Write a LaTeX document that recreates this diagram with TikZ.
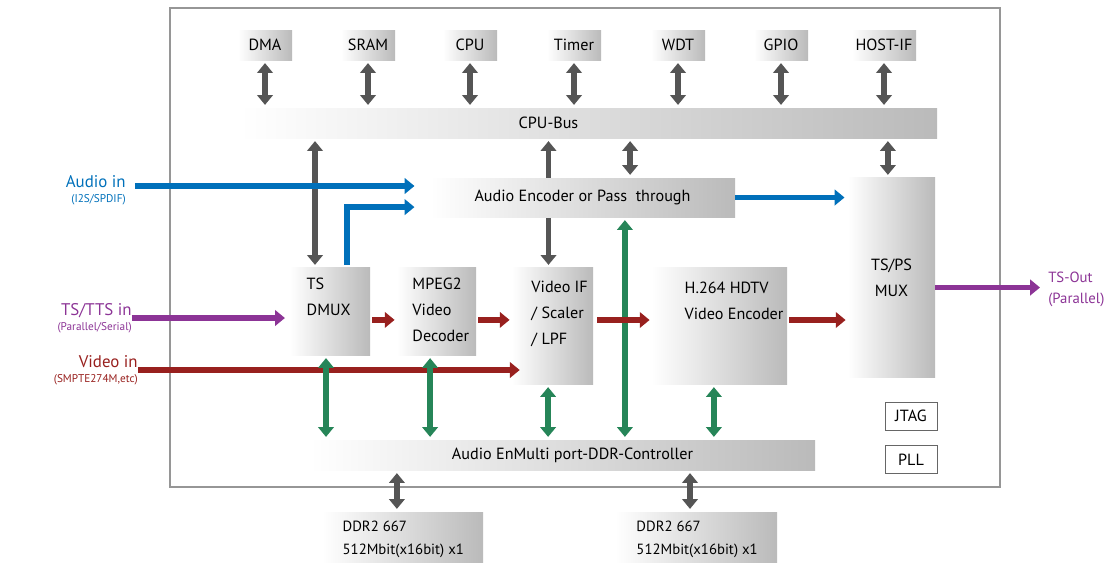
\documentclass[tikz,border=0pt]{standalone}
\usepackage{fontspec}
\setmainfont{PT Sans}
\usepackage{xcolor}
\definecolor{arrgray}{RGB}{85,85,85}
\definecolor{busgreen}{RGB}{38,133,88}
\definecolor{audblue}{RGB}{0,112,186}
\definecolor{tspurple}{RGB}{140,52,150}
\definecolor{vidred}{RGB}{152,32,30}
\definecolor{framegray}{RGB}{150,150,150}
\usetikzlibrary{arrows.meta,positioning,calc,backgrounds}

\newcommand{\blkfont}{\fontsize{11.5}{18.5}\selectfont}
\newcommand{\ddrfont}{\fontsize{10.5}{16.3}\selectfont}
\newcommand{\iofont}{\fontsize{12}{11}\selectfont}
\newcommand{\outfont}{\fontsize{10.5}{12}\selectfont}
\newcommand{\subfont}{\fontsize{8}{9}\selectfont}

\tikzset{
  blk/.style={left color=white,right color=black!27,draw=none,inner sep=0pt,font=\blkfont},
  topblk/.style={blk,minimum width=1.35cm,minimum height=0.75cm},
  bar/.style={blk,minimum height=0.75cm},
  plain/.style={draw=black!60,line width=0.7pt,fill=white,minimum width=1.3cm,minimum height=0.7cm,font=\blkfont},
  inlbl/.style={align=right,anchor=east,font=\iofont,inner sep=0pt},
  >={Triangle[width=11pt,length=7pt]},
  darr/.style={<->,line width=4pt,draw=arrgray,shorten <=2pt,shorten >=2pt},
  garr/.style={<->,line width=4pt,draw=busgreen,shorten <=2pt,shorten >=2pt},
  barr/.style={->,line width=4pt,draw=audblue},
  parr/.style={->,line width=4pt,draw=tspurple},
  rarr/.style={->,line width=4pt,draw=vidred,shorten <=1.5pt,shorten >=1.5pt},
}

\begin{document}
\begin{tikzpicture}[x=0.025cm,y=-0.025cm]
  \useasboundingbox (0,0) rectangle (1110,562);

  % chip frame
  \draw[framegray,line width=1.1pt] (170,8) rectangle (1000,487);

  % peripherals on the cpu bus
  \node[bar,minimum width=17.425cm,label={[xshift=-1cm,font=\blkfont]center:CPU-Bus}] (bus) at (588.5,123) {};
  \foreach \nm/\lb/\xx in {dma/DMA/265,sram/SRAM/368,cpu/CPU/470,timer/Timer/574,wdt/WDT/678,gpio/GPIO/781}
  {
    \node[topblk] (\nm) at (\xx,45) {\lb};
    \draw[darr] (\nm.south) -- (\nm.south |- bus.north);
  }
  \node[topblk,minimum width=1.6cm] (hostif) at (884,45) {HOST-IF};
  \draw[darr] (hostif.south) -- (hostif.south |- bus.north);

  % main blocks
  \node[blk,minimum width=7.625cm,minimum height=0.975cm] (aenc) at (582.5,197.5) {Audio Encoder or Pass\ \ through};
  \node[blk,minimum width=2.175cm,minimum height=4.975cm,align=center] (mux) at (891.5,277.5) {TS/PS\\MUX};
  \node[blk,minimum width=2cm,minimum height=2.175cm,
        label={[anchor=north west,align=left,font=\blkfont,xshift=0.3cm,yshift=-0.12cm]north west:TS\\DMUX}] (dmux) at (330,311.5) {};
  \node[blk,minimum width=1.975cm,minimum height=2.175cm,
        label={[anchor=north west,align=left,font=\blkfont,xshift=0.27cm,yshift=-0.12cm]north west:MPEG2\\Video\\Decoder}] (mpeg) at (436.5,311.5) {};
  \node[blk,minimum width=2.025cm,minimum height=2.9cm,
        label={[anchor=north west,align=left,font=\blkfont,xshift=0.37cm,yshift=-0.22cm]north west:Video IF\\/ Scaler\\/ LPF}] (vif) at (552.5,326) {};
  \node[blk,minimum width=3.375cm,minimum height=2.9cm,
        label={[anchor=north west,align=left,font=\blkfont,xshift=0.7cm,yshift=-0.22cm]north west:H.264 HDTV\\Video Encoder}] (venc) at (719.5,326) {};
  \node[bar,minimum width=12.625cm] (ctrl) at (562.5,455) {};
  \node[font=\blkfont] at ([xshift=0.25cm]ctrl.center) {Audio EnMulti port-DDR-Controller};
  \node[plain] (jtag) at (911,416) {JTAG};
  \node[plain] (pll) at (911,459.5) {PLL};
  \node[blk,minimum width=4.025cm,minimum height=1.45cm,
        label={[anchor=north west,align=left,font=\ddrfont,xshift=0.4cm,yshift=-0.1cm]north west:DDR2 667\\512Mbit(x16bit) x1}] (ddra) at (402.5,541) {};
  \node[blk,minimum width=4.05cm,minimum height=1.45cm,
        label={[anchor=north west,align=left,font=\ddrfont,xshift=0.42cm,yshift=-0.1cm]north west:DDR2 667\\512Mbit(x16bit) x1}] (ddrb) at (696,541) {};

  % io labels
  \node[inlbl,text=audblue] (ain) at (126,190) {Audio in\\{\subfont(I2S/SPDIF)}};
  \node[inlbl,text=tspurple] (tsin) at (132,318) {TS/TTS in\\{\subfont(Parallel/Serial)}};
  \node[inlbl,text=vidred] (vin) at (138,370) {Video in\\{\subfont(SMPTE274M,etc)}};
  \node[align=left,anchor=west,font=\outfont,text=tspurple,inner sep=0pt] (tsout) at (1048,289) {TS-Out\\[3pt](Parallel)};

  % bus links
  \begin{scope}[on background layer]
    \draw[darr] ([xshift=-0.1cm]bus.south -| vif.north) -- ([xshift=-0.1cm]vif.north);
  \end{scope}
  \draw[darr] ([xshift=-0.375cm]dmux.north) -- ([xshift=-0.375cm]dmux.north |- bus.south);
  \draw[darr] ([xshift=1.19cm]aenc.north) -- ([xshift=1.19cm]aenc.north |- bus.south);
  \draw[darr] ([xshift=-0.09cm]mux.north) -- ([xshift=-0.09cm]mux.north |- bus.south);
  \draw[darr] ([xshift=-0.14cm]ddra.north) -- ([xshift=-0.14cm]ddra.north |- ctrl.south);
  \draw[darr] ([xshift=-0.15cm]ddrb.north) -- ([xshift=-0.15cm]ddrb.north |- ctrl.south);

  % audio path
  \draw[barr] ([xshift=0.22cm,yshift=0.1cm]ain.east) -- ([xshift=-0.38cm,yshift=0.1cm]ain.east -| aenc.west);
  \draw[barr] ([xshift=0.42cm,yshift=0.08cm]dmux.north) |- ([xshift=-0.38cm,yshift=-0.24cm]aenc.west);
  \draw[barr] (aenc.east) -- ([xshift=-0.08cm]aenc.east -| mux.west);

  % video path
  \draw[rarr,shorten <=0pt,shorten >=-0.2cm] (vin.east) -- (vin.east -| vif.west);
  \draw[garr] ([xshift=1.06cm]aenc.south) -- ([xshift=1.06cm]aenc.south |- ctrl.north);
  \draw[garr] ([xshift=-0.1cm]dmux.south) -- ([xshift=-0.1cm]dmux.south |- ctrl.north);
  \draw[garr] ([xshift=-0.16cm]mpeg.south) -- ([xshift=-0.16cm]mpeg.south |- ctrl.north);
  \draw[garr] ([xshift=-0.11cm]vif.south) -- ([xshift=-0.11cm]vif.south |- ctrl.north);
  \draw[garr] ([xshift=-0.14cm]venc.south) -- ([xshift=-0.14cm]venc.south |- ctrl.north);
  \draw[parr,shorten >=0.12cm] (tsin.east) -- (tsin.east -| dmux.west);
  \draw[rarr] ([yshift=-0.21cm]dmux.east) -- ([yshift=-0.21cm]dmux.east -| mpeg.west);
  \draw[rarr] ([yshift=-0.21cm]mpeg.east) -- ([yshift=-0.21cm]mpeg.east -| vif.west);
  \draw[rarr,shorten <=0.1cm] ([yshift=0.15cm]vif.east) -- ([yshift=0.15cm]vif.east -| venc.west);
  \draw[rarr] ([yshift=0.15cm]venc.east) -- ([yshift=0.15cm]venc.east -| mux.west);
  \draw[parr,shorten >=0.2cm] ([yshift=-0.25cm]mux.east) -- ([yshift=-0.25cm]mux.east -| tsout.west);
\end{tikzpicture}
\end{document}
